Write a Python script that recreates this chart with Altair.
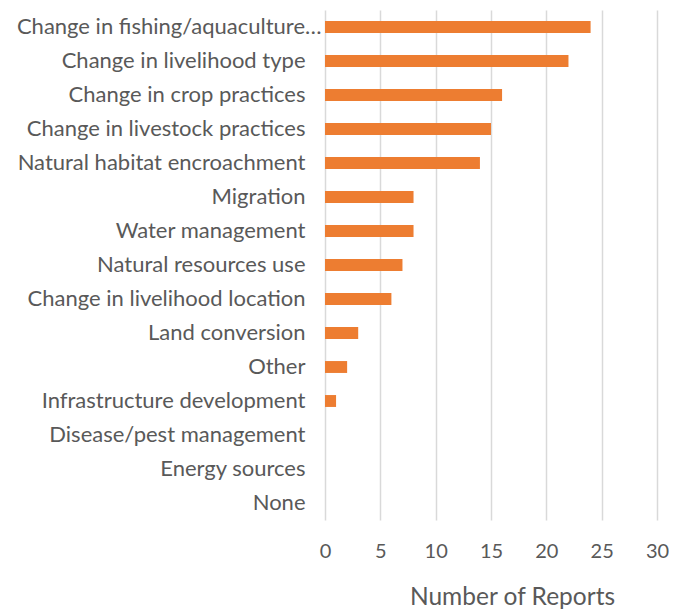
import altair as alt
import pandas as pd

categories = [
    "Change in fishing/aquaculture…",
    "Change in livelihood type",
    "Change in crop practices",
    "Change in livestock practices",
    "Natural habitat encroachment",
    "Migration",
    "Water management",
    "Natural resources use",
    "Change in livelihood location",
    "Land conversion",
    "Other",
    "Infrastructure development",
    "Disease/pest management",
    "Energy sources",
    "None",
]
reports = [24, 22, 16, 15, 14, 8, 8, 7, 6, 3, 2, 1, 0, 0, 0]
x_ticks = [0, 5, 10, 15, 20, 25, 30]

df = pd.DataFrame({"category": categories, "reports": reports})

FONT = "Lato"
TXT = "#595959"

chart = (
    alt.Chart(df)
    .mark_bar(color="#ED7D31")
    .encode(
        x=alt.X(
            "reports:Q",
            scale=alt.Scale(domain=[0, 30], nice=False),
            axis=alt.Axis(
                values=x_ticks,
                title="Number of Reports",
                grid=True,
                gridColor="#d9d9d9",
                gridWidth=1.5,
                domain=False,
                ticks=False,
                labelFlush=False,
                labelFont=FONT,
                labelFontSize=20,
                labelColor=TXT,
                labelPadding=21,
                titleFont=FONT,
                titleFontSize=24.5,
                titleFontWeight="normal",
                titleColor=TXT,
                titleX=187,
                titleY=77,
                titleBaseline="middle",
            ),
        ),
        y=alt.Y(
            "category:N",
            sort=categories,
            scale=alt.Scale(paddingInner=0.65, paddingOuter=0.325),
            axis=alt.Axis(
                title=None,
                domain=False,
                ticks=False,
                grid=False,
                labelFont=FONT,
                labelFontSize=22,
                labelColor=TXT,
                labelLimit=400,
                labelPadding={
                    "condition": {"test": "datum.value == 'Change in fishing/aquaculture…'", "value": 4},
                    "value": 20,
                },
            ),
        ),
    )
    .properties(
        width=332,
        height=510,
        autosize=alt.AutoSizeParams(type="none"),
        padding={"left": 317, "top": 2, "right": 12, "bottom": 89},
    )
    .configure(background="white")
    .configure_view(stroke=None)
)

chart.save("out.html", embed_options={"renderer": "svg", "actions": False})
